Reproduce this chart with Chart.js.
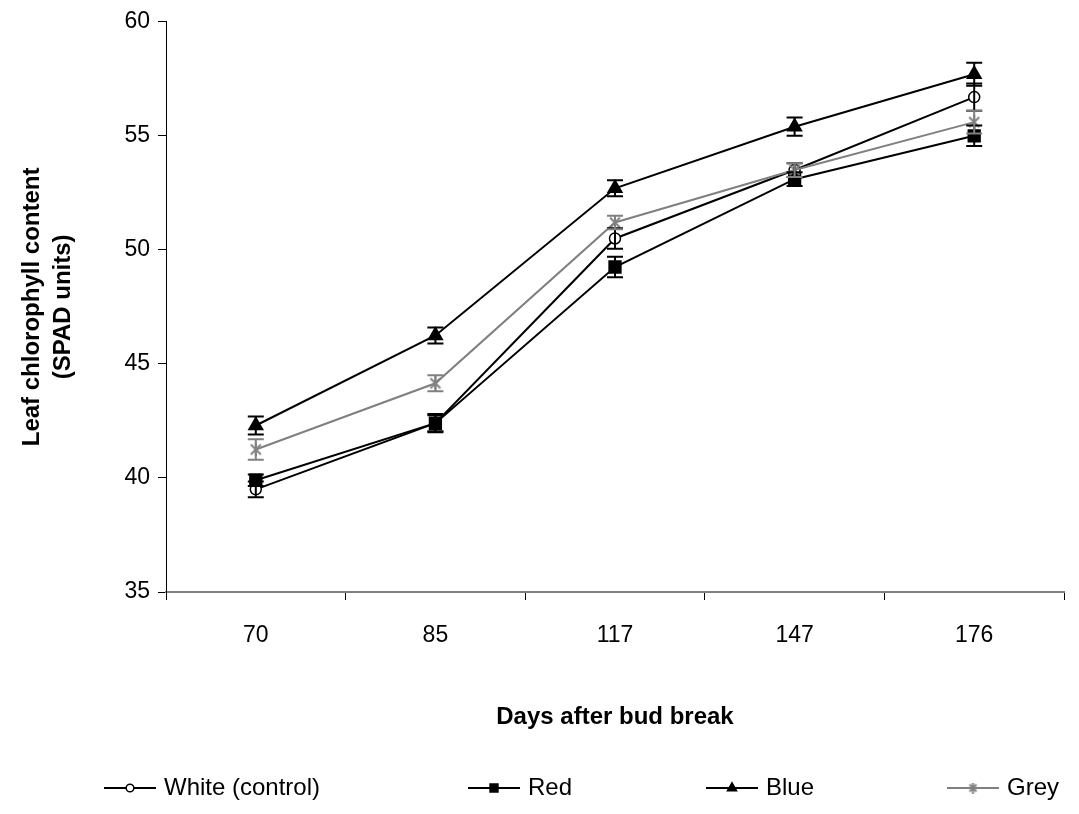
<!DOCTYPE html>
<html>
<head>
<meta charset="utf-8">
<script src="https://cdn.jsdelivr.net/npm/chart.js@4/dist/chart.umd.min.js"></script>
<style>
  html, body { margin: 0; padding: 0; background: #fff; }
  #wrap { width: 1079px; height: 814px; }
</style>
</head>
<body>
<div id="wrap"><canvas id="chlorophyll" width="1079" height="814"></canvas></div>
<script>
// days after bud break
const days = ["70", "85", "117", "147", "176"];

// mean SPAD readings per treatment
const white = [39.5, 42.4, 50.5, 53.5, 56.7];
const red = [39.9, 42.4, 49.25, 53.1, 55.0];
const blue = [42.3, 46.25, 52.7, 55.4, 57.7];
const grey = [41.25, 44.15, 51.2, 53.5, 55.6];

// error bar half-lengths
const whiteErr = [0.35, 0.4, 0.45, 0.3, 0.6];
const redErr = [0.25, 0.35, 0.45, 0.3, 0.45];
const blueErr = [0.4, 0.35, 0.35, 0.4, 0.5];
const greyErr = [0.45, 0.35, 0.3, 0.3, 0.5];

const seriesNames = ["White (control)", "Red", "Blue", "Grey"];

// excel-style asterisk marker (x with a vertical bar)
function asterisk(size, color) {
    const c = document.createElement('canvas');
    c.width = size; c.height = size;
    const g = c.getContext('2d');
    g.strokeStyle = color;
    g.lineWidth = 2;
    g.beginPath();
    g.moveTo(2, 2); g.lineTo(size - 2, size - 2);
    g.moveTo(size - 2, 2); g.lineTo(2, size - 2);
    g.moveTo(size / 2, 0); g.lineTo(size / 2, size);
    g.stroke();
    return c;
}
const star = asterisk(14, '#808080');
const starSmall = asterisk(11, '#808080');

const errorBars = {
    id: 'errorBars',
    afterDatasetsDraw(chart) {
        const ctx = chart.ctx;
        const y = chart.scales.y;
        chart.data.datasets.forEach((ds, i) => {
            const meta = chart.getDatasetMeta(i);
            ctx.save();
            ctx.strokeStyle = ds.borderColor;
            ctx.lineWidth = 2;
            meta.data.forEach((pt, j) => {
                const top = y.getPixelForValue(ds.data[j] + ds.err[j]);
                const bot = y.getPixelForValue(ds.data[j] - ds.err[j]);
                ctx.beginPath();
                ctx.moveTo(pt.x, top); ctx.lineTo(pt.x, bot);
                ctx.moveTo(pt.x - 8, top); ctx.lineTo(pt.x + 8, top);
                ctx.moveTo(pt.x - 8, bot); ctx.lineTo(pt.x + 8, bot);
                ctx.stroke();
            });
            ctx.restore();
        });
    }
};

// legend row under the chart: short line with the marker in the middle
const lineLegend = {
    id: 'lineLegend',
    afterDraw(chart) {
        const ctx = chart.ctx;
        const xs = [104, 468, 706, 947];
        const yMid = 788;
        chart.data.datasets.forEach((ds, i) => {
            const x0 = xs[i];
            ctx.save();
            ctx.strokeStyle = ds.borderColor;
            ctx.lineWidth = 2;
            ctx.beginPath();
            ctx.moveTo(x0, yMid); ctx.lineTo(x0 + 52, yMid);
            ctx.stroke();
            ctx.fillStyle = ds.pointBackgroundColor;
            ctx.strokeStyle = ds.borderColor;
            ctx.lineWidth = 1.5;
            Chart.helpers.drawPoint(ctx, {
                pointStyle: ds.pointStyle === star ? starSmall : ds.pointStyle,
                radius: ds.pointRadius * 0.7, rotation: 0, borderWidth: 1.5
            }, x0 + 26, yMid);
            ctx.fillStyle = '#000';
            ctx.font = '24px "Liberation Sans", Arial, sans-serif';
            ctx.textBaseline = 'middle';
            ctx.textAlign = 'left';
            ctx.fillText(ds.label, x0 + 60, yMid);
            ctx.restore();
        });
    }
};

const ctx = document.getElementById('chlorophyll').getContext('2d');
new Chart(ctx, {
    type: 'line',
    data: {
        labels: days,
        datasets: [{
            label: seriesNames[0],
            data: white,
            err: whiteErr,
            order: 4,
            borderColor: '#000',
            borderWidth: 2,
            pointStyle: 'circle',
            pointRadius: 5.5,
            pointBackgroundColor: '#fff',
            pointBorderColor: '#000',
            pointBorderWidth: 1.5
        }, {
            label: seriesNames[1],
            data: red,
            err: redErr,
            order: 3,
            borderColor: '#000',
            borderWidth: 2,
            pointStyle: 'rect',
            pointRadius: 8,
            pointBackgroundColor: '#000',
            pointBorderColor: '#000'
        }, {
            label: seriesNames[2],
            data: blue,
            err: blueErr,
            order: 2,
            borderColor: '#000',
            borderWidth: 2,
            pointStyle: 'triangle',
            pointRadius: 7.5,
            pointBackgroundColor: '#000',
            pointBorderColor: '#000'
        }, {
            label: seriesNames[3],
            data: grey,
            err: greyErr,
            order: 1,
            borderColor: '#808080',
            borderWidth: 2,
            pointStyle: star,
            pointRadius: 7,
            pointBackgroundColor: '#808080',
            pointBorderColor: '#808080'
        }]
    },
    options: {
        responsive: false,
        animation: false,
        layout: { padding: { top: 20, right: 15, left: 0, bottom: 80 } },
        plugins: {
            legend: { display: false },
            tooltip: { enabled: false }
        },
        scales: {
            x: {
                offset: true,
                afterFit: function(s) { s.height = 142; },
                grid: { offset: true, drawOnChartArea: false, tickLength: 8, color: '#000' },
                border: { color: '#808080', width: 2 },
                ticks: {
                    color: '#000',
                    padding: 22,
                    font: { family: '"Liberation Sans", Arial, sans-serif', size: 23 }
                },
                title: {
                    display: true,
                    text: 'Days after bud break',
                    color: '#000',
                    padding: { top: 0, bottom: 2 },
                    font: { family: '"Liberation Sans", Arial, sans-serif', size: 24, weight: 'bold' }
                }
            },
            y: {
                min: 35,
                max: 60,
                afterFit: function(s) { s.width = 166; },
                grid: { drawOnChartArea: false, tickLength: 8, color: '#000' },
                border: { color: '#000', width: 1 },
                ticks: {
                    stepSize: 5,
                    color: '#000',
                    padding: 8,
                    font: { family: '"Liberation Sans", Arial, sans-serif', size: 23 }
                },
                title: {
                    display: true,
                    text: ['Leaf chlorophyll content', '(SPAD units)'],
                    color: '#000',
                    padding: { top: 17, bottom: 0 },
                    font: { family: '"Liberation Sans", Arial, sans-serif', size: 24, weight: 'bold', lineHeight: 1.3 }
                }
            }
        }
    },
    plugins: [errorBars, lineLegend]
});
</script>
</body>
</html>
